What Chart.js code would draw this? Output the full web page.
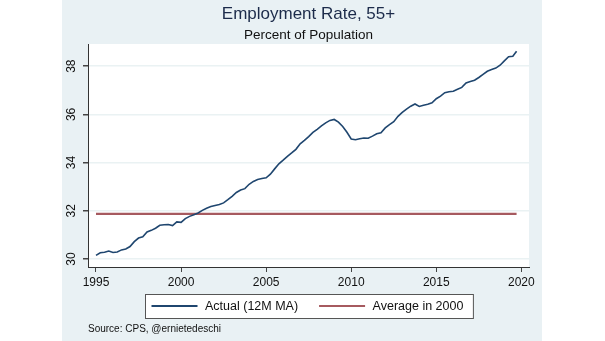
<!DOCTYPE html>
<html>
<head>
<meta charset="utf-8">
<script src="https://cdn.jsdelivr.net/npm/chart.js@4.4.1/dist/chart.umd.min.js"></script>
<style>
  html, body { margin: 0; padding: 0; background: #fff; }
  canvas { display: block; }
</style>
</head>
<body>
<canvas id="chart" width="605" height="341"></canvas>
<script>
// employment-population ratio, age 55+, 12 month moving average
let years = [
  1995.00, 1995.25, 1995.50, 1995.75, 1996.00, 1996.25, 1996.50, 1996.75,
  1997.00, 1997.25, 1997.50, 1997.75, 1998.00, 1998.25, 1998.50, 1998.75,
  1999.00, 1999.25, 1999.50, 1999.75, 2000.00, 2000.25, 2000.50, 2000.75,
  2001.00, 2001.25, 2001.50, 2001.75, 2002.00, 2002.25, 2002.50, 2002.75,
  2003.00, 2003.25, 2003.50, 2003.75, 2004.00, 2004.25, 2004.50, 2004.75,
  2005.00, 2005.25, 2005.50, 2005.75, 2006.00, 2006.25, 2006.50, 2006.75,
  2007.00, 2007.25, 2007.50, 2007.75, 2008.00, 2008.25, 2008.50, 2008.75,
  2009.00, 2009.25, 2009.50, 2009.75, 2010.00, 2010.25, 2010.50, 2010.75,
  2011.00, 2011.25, 2011.50, 2011.75, 2012.00, 2012.25, 2012.50, 2012.75,
  2013.00, 2013.25, 2013.50, 2013.75, 2014.00, 2014.25, 2014.50, 2014.75,
  2015.00, 2015.25, 2015.50, 2015.75, 2016.00, 2016.25, 2016.50, 2016.75,
  2017.00, 2017.25, 2017.50, 2017.75, 2018.00, 2018.25, 2018.50, 2018.75,
  2019.00, 2019.25, 2019.50, 2019.72
];
let actual = [
  30.15, 30.26, 30.28, 30.33, 30.27, 30.29, 30.38, 30.42,
  30.52, 30.72, 30.87, 30.92, 31.12, 31.19, 31.28, 31.40,
  31.42, 31.43, 31.39, 31.54, 31.52, 31.68, 31.77, 31.84,
  31.91, 32.02, 32.11, 32.18, 32.22, 32.26, 32.33, 32.46,
  32.60, 32.76, 32.86, 32.92, 33.10, 33.22, 33.30, 33.34,
  33.37, 33.52, 33.74, 33.95, 34.10, 34.26, 34.40, 34.55,
  34.78, 34.92, 35.08, 35.25, 35.38, 35.52, 35.65, 35.75,
  35.79, 35.68, 35.50, 35.26, 34.98, 34.95, 34.99, 35.02,
  35.01, 35.10, 35.20, 35.24, 35.44, 35.58, 35.70, 35.92,
  36.08, 36.22, 36.34, 36.43, 36.33, 36.38, 36.42, 36.48,
  36.65, 36.76, 36.90, 36.94, 36.96, 37.04, 37.12, 37.30,
  37.36, 37.42, 37.53, 37.66, 37.79, 37.86, 37.92, 38.04,
  38.22, 38.39, 38.41, 38.62
];
let avg2000 = 31.87;
let xTicks = [1995, 2000, 2005, 2010, 2015, 2020];
let yTicks = [30, 32, 34, 36, 38];
let labels = ['Actual (12M MA)', 'Average in 2000'];
let colorHex = ['#1f466f', '#a65a5f'];

const font = '"Liberation Sans", Arial, sans-serif';
const panelColor = '#e9f1f4';

// light panel behind the plot, white plot region
const backdrop = {
  id: 'backdrop',
  beforeDraw(chart) {
    const {ctx, chartArea, width, height} = chart;
    ctx.save();
    ctx.fillStyle = '#fff';
    ctx.fillRect(0, 0, width, height);
    ctx.fillStyle = panelColor;
    ctx.fillRect(62, 0, 480, height);
    ctx.fillStyle = '#fff';
    ctx.fillRect(chartArea.left, chartArea.top, chartArea.right - chartArea.left, chartArea.bottom - chartArea.top);
    ctx.restore();
  }
};

// boxed legend in one row plus the source note
const legendBox = {
  id: 'legendBox',
  afterDraw(chart) {
    const {ctx, chartArea} = chart;
    ctx.save();
    ctx.font = '12.5px ' + font;
    const sample = 46, gap = 7.5, between = 21;
    const items = chart.data.datasets.map(ds => ({
      text: ds.label,
      color: ds.borderColor,
      w: ctx.measureText(ds.label).width
    }));
    let inner = items.reduce((s, it) => s + sample + gap + it.w, 0) + between * (items.length - 1);
    const boxW = inner + 16;
    const left = Math.round((chartArea.left + chartArea.right) / 2 - boxW / 2);
    const top = 294, h = 24, mid = top + h / 2;
    ctx.fillStyle = '#fff';
    ctx.fillRect(left, top, boxW, h);
    ctx.strokeStyle = '#555';
    ctx.lineWidth = 1;
    ctx.strokeRect(left + 0.5, top + 0.5, boxW, h);
    let x = left + 6.5;
    items.forEach(it => {
      ctx.strokeStyle = it.color;
      ctx.lineWidth = 1.8;
      ctx.beginPath();
      ctx.moveTo(x, mid);
      ctx.lineTo(x + sample, mid);
      ctx.stroke();
      x += sample + gap;
      ctx.fillStyle = '#111';
      ctx.textBaseline = 'middle';
      ctx.fillText(it.text, x, mid + 0.5);
      x += it.w + between;
    });
    ctx.font = '10px ' + font;
    ctx.fillStyle = '#111';
    ctx.textBaseline = 'middle';
    ctx.fillText('Source: CPS, @ernietedeschi', 88, 329);
    ctx.restore();
  }
};

const actualPoints = years.map((yr, i) => ({x: yr, y: actual[i]}));
const avgPoints = [
  {x: years[0], y: avg2000},
  {x: years[years.length - 1], y: avg2000}
];

new Chart(document.getElementById('chart'), {
  type: 'line',
  data: {
    datasets: [
      {
        label: labels[0],
        data: actualPoints,
        borderColor: colorHex[0],
        borderWidth: 1.6,
        pointRadius: 0,
        tension: 0
      },
      {
        label: labels[1],
        data: avgPoints,
        borderColor: colorHex[1],
        borderWidth: 2.2,
        pointRadius: 0,
        tension: 0
      }
    ]
  },
  options: {
    responsive: false,
    animation: false,
    layout: {
      padding: {left: 62, right: 76, top: 0, bottom: 49}
    },
    plugins: {
      legend: {display: false},
      tooltip: {enabled: false},
      title: {
        display: true,
        text: 'Employment Rate, 55+',
        fullSize: false,
        color: '#1c2b4a',
        font: {family: font, size: 17, weight: 'normal'},
        padding: {top: 4.3, bottom: 0}
      },
      subtitle: {
        display: true,
        text: 'Percent of Population',
        fullSize: false,
        color: '#111',
        font: {family: font, size: 13.5, weight: 'normal'},
        padding: {top: 2.2, bottom: 0.9}
      }
    },
    scales: {
      x: {
        type: 'linear',
        min: 1994.53,
        max: 2020.45,
        afterBuildTicks: (scale) => { scale.ticks = xTicks.map(v => ({value: v})); },
        afterFit: (scale) => { scale.height = 25; },
        ticks: {
          color: '#111',
          font: {family: font, size: 12},
          padding: 3,
          maxRotation: 0,
          callback: (v) => String(v)
        },
        grid: {
          drawOnChartArea: false,
          tickLength: 5,
          tickColor: '#444'
        },
        border: {color: '#333', width: 1}
      },
      y: {
        min: 29.67,
        max: 38.92,
        afterBuildTicks: (scale) => { scale.ticks = yTicks.map(v => ({value: v})); },
        afterFit: (scale) => { scale.width = 26; },
        ticks: {
          color: '#111',
          font: {family: font, size: 12},
          padding: 5,
          minRotation: 90,
          maxRotation: 90,
          crossAlign: 'center'
        },
        grid: {
          color: '#eaf2f3',
          lineWidth: 1.5,
          tickLength: 5,
          tickColor: '#444'
        },
        border: {color: '#333', width: 1}
      }
    }
  },
  plugins: [backdrop, legendBox]
});
</script>
</body>
</html>
